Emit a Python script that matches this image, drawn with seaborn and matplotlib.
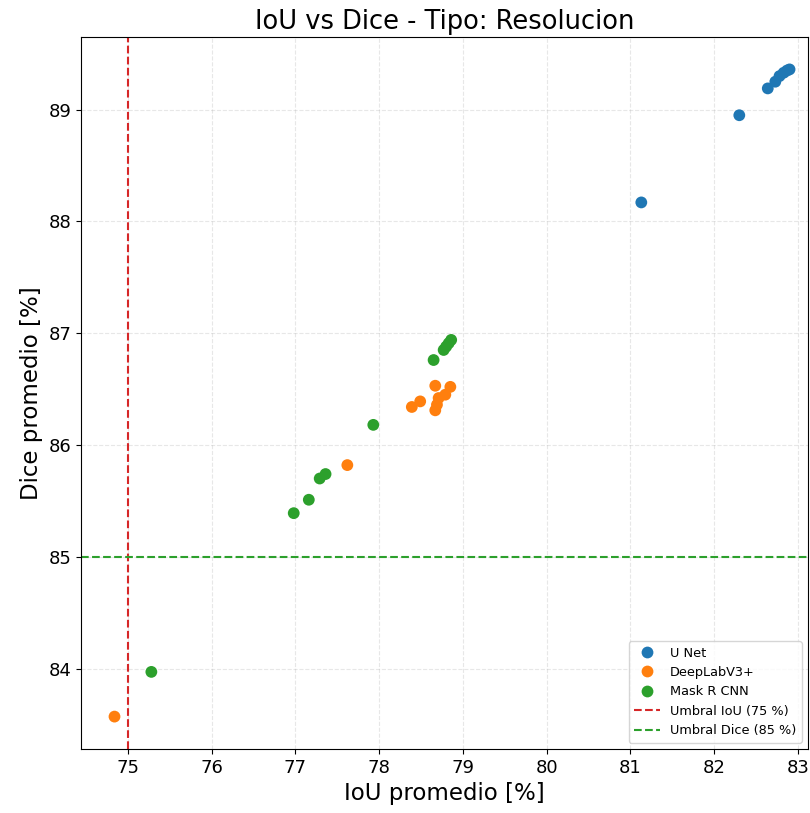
import matplotlib
matplotlib.use("Agg")
import matplotlib.pyplot as plt
import seaborn as sns
import pandas as pd

models = ["U Net", "DeepLabV3+", "Mask R CNN"]

unet_iou = [81.13, 82.30, 82.64, 82.73, 82.78, 82.83, 82.87, 82.90]
unet_dice = [88.17, 88.95, 89.19, 89.25, 89.30, 89.33, 89.35, 89.36]

deeplab_iou = [74.84, 77.62, 78.39, 78.49, 78.67, 78.69, 78.71, 78.79, 78.85, 78.67]
deeplab_dice = [83.57, 85.82, 86.34, 86.39, 86.31, 86.36, 86.42, 86.45, 86.52, 86.53]

mask_iou = [75.28, 76.98, 77.16, 77.29, 77.36, 77.93, 78.65, 78.77, 78.80, 78.83, 78.86]
mask_dice = [83.97, 85.39, 85.51, 85.70, 85.74, 86.18, 86.76, 86.85, 86.88, 86.91, 86.94]

iou_threshold = 75
dice_threshold = 85

df = pd.concat([
    pd.DataFrame({"IoU": unet_iou, "Dice": unet_dice, "Modelo": models[0]}),
    pd.DataFrame({"IoU": deeplab_iou, "Dice": deeplab_dice, "Modelo": models[1]}),
    pd.DataFrame({"IoU": mask_iou, "Dice": mask_dice, "Modelo": models[2]}),
])

fig = plt.figure(figsize=(8.1, 8.13), dpi=100)
ax = fig.add_axes([0.1, 0.0787, 0.8975, 0.8758])

palette = {"U Net": "#1f77b4", "DeepLabV3+": "#ff7f0e", "Mask R CNN": "#2ca02c"}
sns.scatterplot(data=df, x="IoU", y="Dice", hue="Modelo", hue_order=models,
                palette=palette, s=72, edgecolor="none", ax=ax, zorder=3)

ax.axvline(iou_threshold, color="#d62728", linestyle="--", linewidth=1.5,
           label="Umbral IoU (75 %)")
ax.axhline(dice_threshold, color="#2ca02c", linestyle="--", linewidth=1.5,
           label="Umbral Dice (85 %)")

ax.grid(True, linestyle="--", alpha=0.3)
ax.set_axisbelow(True)
ax.set_xlim(74.44, 83.12)
ax.set_ylim(83.28, 89.65)

ax.set_title("IoU vs Dice - Tipo: Resolucion", fontsize=18.5)
ax.set_xlabel("IoU promedio [%]", fontsize=16.5)
ax.set_ylabel("Dice promedio [%]", fontsize=16.5)
ax.tick_params(labelsize=13)

handles, labels = ax.get_legend_handles_labels()
ax.legend(handles, labels, loc="lower right", fontsize=9.3, title=None)

fig.savefig("out.png", dpi=100)
